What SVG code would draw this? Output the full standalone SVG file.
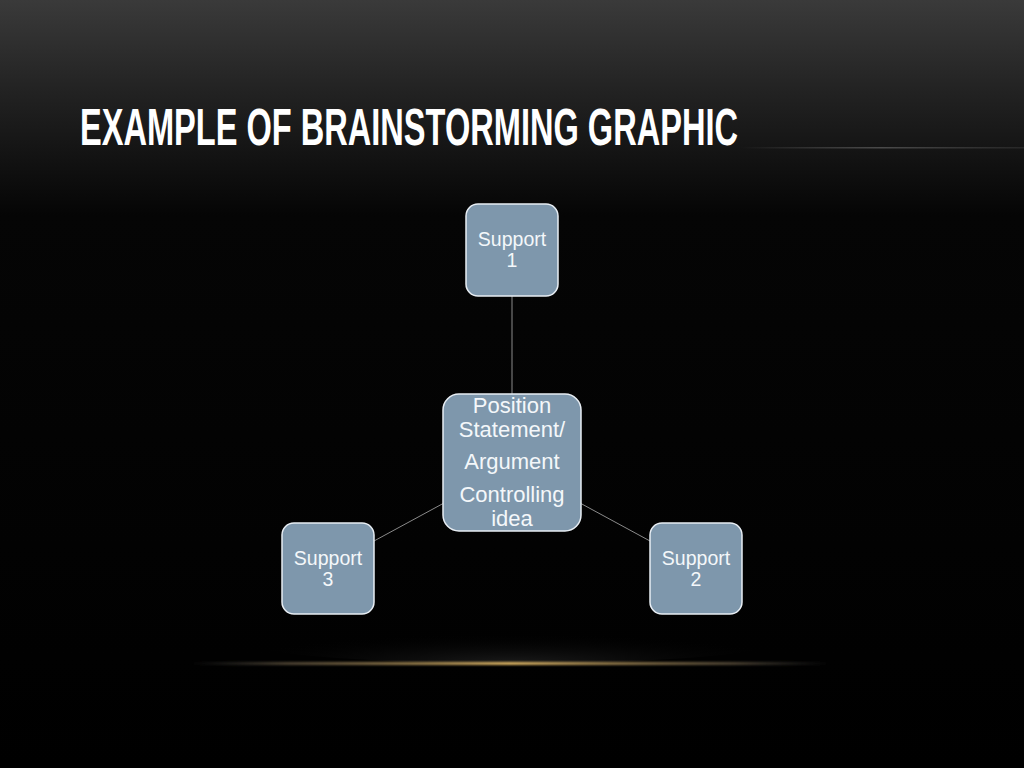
<svg xmlns="http://www.w3.org/2000/svg" width="1024" height="768" viewBox="0 0 1024 768">
<defs>
<linearGradient id="bg" x1="0" y1="0" x2="0" y2="1">
<stop offset="0" stop-color="#3a3a3a"/>
<stop offset="0.12" stop-color="#222"/>
<stop offset="0.28" stop-color="#050505"/>
<stop offset="1" stop-color="#000"/>
</linearGradient>
<linearGradient id="rule" x1="0" y1="0" x2="1" y2="0">
<stop offset="0" stop-color="#555" stop-opacity="0"/>
<stop offset="0.5" stop-color="#4a4a4a"/>
<stop offset="1" stop-color="#333" stop-opacity="0.6"/>
</linearGradient>
<linearGradient id="glow" x1="0" y1="0" x2="1" y2="0">
<stop offset="0" stop-color="#555" stop-opacity="0"/>
<stop offset="0.15" stop-color="#7a6a50" stop-opacity="0.6"/>
<stop offset="0.5" stop-color="#d8b060"/>
<stop offset="0.85" stop-color="#7a6a50" stop-opacity="0.6"/>
<stop offset="1" stop-color="#555" stop-opacity="0"/>
</linearGradient>
<radialGradient id="haze" cx="0.5" cy="1" r="0.5">
<stop offset="0" stop-color="#1c1c1c"/>
<stop offset="1" stop-color="#000" stop-opacity="0"/>
</radialGradient>
<filter id="blur" x="-0.1" y="-2" width="1.2" height="5"><feGaussianBlur stdDeviation="1"/></filter>
</defs>
<style>
.node rect{fill:#7e97ac;stroke:#e8eef4;stroke-width:1.5}
.node text{font-family:"Liberation Sans",Arial,sans-serif;fill:#f4f7fa;text-anchor:middle}
.s{font-size:19.5px}
.c{font-size:22px}
.conn line{stroke:#8a8a8a;stroke-width:1}
</style>
<rect width="1024" height="768" fill="url(#bg)"/>
<rect x="740" y="147" width="284" height="1.5" fill="url(#rule)"/>
<text x="80" y="145" font-family="'Liberation Sans Narrow','Liberation Sans',Arial,sans-serif" font-weight="bold" font-size="51" fill="#ffffff" textLength="658" lengthAdjust="spacingAndGlyphs">EXAMPLE OF BRAINSTORMING GRAPHIC</text>
<ellipse cx="512" cy="632" rx="300" ry="32" fill="url(#haze)"/>
<rect x="190" y="662" width="640" height="3" fill="url(#glow)" filter="url(#blur)"/>
<g class="conn">
<line x1="512" y1="296" x2="512" y2="394"/>
<line x1="444" y1="503" x2="374" y2="541"/>
<line x1="580" y1="503" x2="650" y2="541"/>
</g>
<g id="support1" class="node">
<rect x="466" y="204" width="92" height="92" rx="12"/>
<text class="s" x="512" y="246">Support</text>
<text class="s" x="512" y="267">1</text>
</g>
<g id="center" class="node">
<rect x="443" y="394" width="138" height="137" rx="16"/>
<text class="c" x="512" y="413">Position</text>
<text class="c" x="512" y="437">Statement/</text>
<text class="c" x="512" y="469">Argument</text>
<text class="c" x="512" y="502">Controlling</text>
<text class="c" x="512" y="526">idea</text>
</g>
<g id="support3" class="node">
<rect x="282" y="523" width="92" height="91" rx="12"/>
<text class="s" x="328" y="565">Support</text>
<text class="s" x="328" y="586">3</text>
</g>
<g id="support2" class="node">
<rect x="650" y="523" width="92" height="91" rx="12"/>
<text class="s" x="696" y="565">Support</text>
<text class="s" x="696" y="586">2</text>
</g>
</svg>
